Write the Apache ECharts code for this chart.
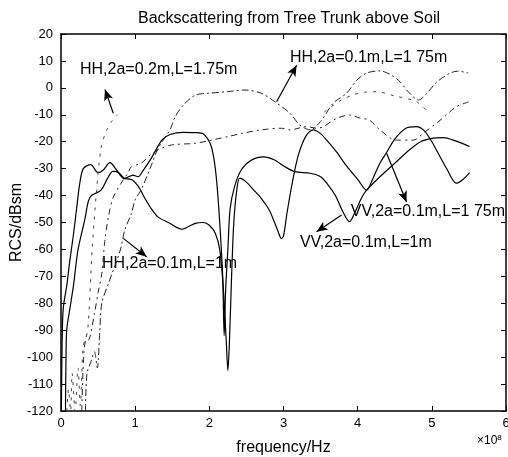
<!DOCTYPE html>
<html>
<head>
<meta charset="utf-8">
<script src="https://cdn.jsdelivr.net/npm/echarts@6/dist/echarts.min.js"></script>
<style>
html, body { margin: 0; padding: 0; background: #fff; }
#chart { width: 508px; height: 457px; }
</style>
</head>
<body>
<div id="chart"></div>
<script>
// frequency in units of 1e8 Hz, RCS in dBsm
var vv175Freq = [0.005,0.015,0.03,0.08,0.12,0.17,0.21,0.25,0.3,0.4,0.5,0.57,0.66,0.75,0.84,0.95,1.04,1.13,1.22,1.31,1.45,1.63,1.72,1.81,1.92,2.0,2.08,2.14,2.19,2.23,2.25,2.27,2.3,2.33,2.37,2.41,2.5,2.6,2.7,2.8,2.88,2.95,2.97,3.0,3.05,3.12,3.2,3.3,3.4,3.5,3.6,3.72,3.85,4.0,4.12,4.2,4.3,4.39,4.5,4.65,4.79,4.9,5.0,5.1,5.2,5.33,5.42,5.51];
var vv175Rcs = [-120,-95,-82,-73,-64,-54,-45,-36,-30,-28.5,-31.5,-30.5,-27.8,-30.5,-33.6,-34,-36.5,-41,-45,-48,-50,-52.5,-51.5,-50.3,-50,-51,-54,-60,-75,-95,-105,-95,-70,-50,-38,-33.5,-35,-38,-41,-45,-50,-55,-56,-55,-46,-35,-25,-18,-15.6,-17,-20,-24,-29,-34,-38,-34,-28,-24,-19,-15,-14.4,-16,-20,-25,-30,-35.4,-34,-31.5];

var vv1Freq = [0.06,0.07,0.08,0.12,0.17,0.23,0.32,0.37,0.41,0.54,0.62,0.7,0.78,0.86,0.97,1.04,1.1,1.22,1.36,1.47,1.65,1.81,1.92,2.01,2.06,2.1,2.14,2.18,2.2,2.22,2.25,2.28,2.34,2.43,2.57,2.73,2.88,3.02,3.15,3.36,3.5,3.6,3.7,3.8,3.89,3.95,4.05,4.12,4.3,4.5,4.7,4.85,5.02,5.15,5.3,5.51];
var vv1Rcs = [-120,-95,-89,-82,-73,-60,-49,-42,-40,-38,-34,-31,-31.5,-33.6,-32.4,-33,-31,-26,-19.4,-17.3,-16.5,-16.6,-17.1,-20.6,-26,-35,-50,-70,-92,-75,-60,-45,-36.7,-30.5,-26.8,-25.6,-26.8,-29.3,-31.1,-31.7,-33,-36,-40,-46,-49.7,-47,-41,-38,-33,-28,-23,-20,-18.7,-18.5,-19.5,-21.8];

var hhUpFreq = [0.33,0.35,0.4,0.45,0.49,0.52,0.55,0.64,0.8,0.86,0.95,1.0,1.08,1.2,1.3,1.4,1.47,1.54,1.65,1.81,2.0,2.25,2.48,2.7,2.88,3.09,3.22,3.36,3.5,3.67,3.85,3.99,4.12,4.3,4.45,4.57,4.68,4.82,4.95,5.06,5.24,5.35,5.49];
var hhUpRcs = [-120,-106,-102,-98,-104,-92,-80,-72.6,-60.2,-52.8,-46.6,-41.6,-37.9,-30,-23,-18.5,-15.6,-10.7,-6.4,-2.7,-2,-1.4,-0.8,-2,-5.1,-9.5,-13.8,-15.6,-12.5,-5.7,-2,2.9,5.5,6.3,4.8,2.3,-1.4,-4.5,-1.5,2,5.4,6.2,5.5];

var hhMidFreq = [0.28,0.31,0.35,0.37,0.45,0.5,0.55,0.59,0.64,0.7,0.81,0.9,0.95,1.08,1.2,1.31,1.49,1.81,2.03,2.25,2.44,2.7,2.97,3.09,3.31,3.45,3.53,3.72,3.89,4.03,4.16,4.3,4.52,4.75,4.9,5.06,5.2,5.33,5.51];
var hhMidRcs = [-120,-98,-92,-93.6,-84,-76,-69,-57,-47.8,-41,-35.4,-31.7,-29.3,-28,-25,-23,-21.2,-20.6,-19.4,-18.1,-16.9,-15.6,-15,-15.6,-14.4,-15,-14.5,-11.3,-10.1,-11.2,-12,-15.6,-19.4,-19.4,-16.5,-13.2,-10,-7,-5.1];

// faint curve, only parts of it survive in the print (null = gap)
var hh02Freq = [0.08,0.1,0.13,0.15,0.19,0.23,0.26,0.3,0.36,0.42,0.48,0.54,0.61,0.68,0.76,2.0,3.55,3.75,3.95,4.1,4.25,4.5,4.79,4.95];
var hh02Rcs = [-120,-112,-120,-106,-120,-104,-118,-96,-90,-60,-38,-22.4,-16,-12.6,-10,null,-9,-5,-2.5,-1.6,-1.4,-3,-5.1,-9];

var xTicks = [0, 1, 2, 3, 4, 5, 6];

// annotations: text, label anchor (left, middle), arrow tail, arrow head
var noteTexts = ['HH,2a=0.2m,L=1.75m', 'HH,2a=0.1m,L=1 75m', 'VV,2a=0.1m,L=1 75m', 'VV,2a=0.1m,L=1m', 'HH,2a=0.1m,L=1m'];
var noteAnchors = [[0.256, 6.6], [3.086, 11.1], [3.908, -46.1], [3.221, -57.6], [0.553, -65.4]];
var arrowTails = [[0.705, -9.45], [2.907, -5.14], [4.39, -24.3], [3.783, -47.2], [0.84, -55.9]];
var arrowHeads = [[0.593, -0.6], [3.177, 8.4], [4.659, -42.4], [3.446, -53.4], [1.155, -62.7]];

function pairs(xs, ys) {
    return xs.map(function (x, i) {
        return [x, ys[i] === null ? '-' : ys[i]];
    });
}

var FONT = 'Liberation Sans, Arial, sans-serif';
var chart = echarts.init(document.getElementById('chart'));

function curve(name, data, lineType, width, color) {
    return {
        name: name,
        type: 'line',
        data: data,
        showSymbol: false,
        smooth: 0.3,
        connectNulls: false,
        lineStyle: { color: color, width: width, type: lineType },
        emphasis: { disabled: true },
        silent: true
    };
}

var arrowLines = arrowTails.map(function (t, i) {
    return [{ coord: t }, { coord: arrowHeads[i] }];
});

var frameTick = { show: true, inside: true, length: 5, lineStyle: { color: '#000', width: 1 } };

var option = {
    animation: false,
    backgroundColor: '#fff',
    title: {
        text: 'Backscattering from Tree Trunk above Soil',
        left: 284,
        top: 6,
        textAlign: 'center',
        textStyle: { fontFamily: FONT, fontSize: 16, fontWeight: 'normal', color: '#000' }
    },
    grid: { left: 61, right: 2, top: 34, bottom: 46, outerBoundsMode: 'none' },
    xAxis: [{
        type: 'value',
        min: 0, max: 6, interval: 1,
        name: 'frequency/Hz',
        nameLocation: 'middle',
        nameGap: 29,
        nameMoveOverlap: false,
        nameTextStyle: { fontFamily: FONT, fontSize: 16, color: '#000' },
        axisLine: { onZero: false, lineStyle: { color: '#000', width: 1.5 } },
        axisTick: frameTick,
        axisLabel: {
            fontFamily: FONT, fontSize: 13, color: '#000', margin: 6,
            formatter: function (v) { return xTicks.indexOf(v) >= 0 ? String(v) : ''; }
        },
        splitLine: { show: false }
    }, {
        type: 'value',
        position: 'top',
        min: 0, max: 6, interval: 1,
        axisLine: { onZero: false, lineStyle: { color: '#000', width: 1.5 } },
        axisTick: frameTick,
        axisLabel: { show: false },
        splitLine: { show: false }
    }],
    yAxis: [{
        type: 'value',
        min: -120, max: 20, interval: 10,
        name: 'RCS/dBsm',
        nameLocation: 'middle',
        nameRotate: 90,
        nameGap: 36,
        nameMoveOverlap: false,
        nameTextStyle: { fontFamily: FONT, fontSize: 16, color: '#000' },
        axisLine: { show: true, onZero: false, lineStyle: { color: '#000', width: 1.5 } },
        axisTick: frameTick,
        axisLabel: { fontFamily: FONT, fontSize: 13, color: '#000', margin: 8 },
        splitLine: { show: false }
    }, {
        type: 'value',
        position: 'right',
        min: -120, max: 20, interval: 10,
        axisLine: { show: true, onZero: false, lineStyle: { color: '#000', width: 1.5 } },
        axisTick: frameTick,
        axisLabel: { show: false },
        splitLine: { show: false }
    }],
    series: [
        curve('VV,2a=0.1m,L=1.75m', pairs(vv175Freq, vv175Rcs), 'solid', 1.2, '#000'),
        curve('VV,2a=0.1m,L=1m', pairs(vv1Freq, vv1Rcs), 'solid', 1.2, '#000'),
        curve('HH upper', pairs(hhUpFreq, hhUpRcs), [7, 3, 2, 3], 1, '#222'),
        curve('HH middle', pairs(hhMidFreq, hhMidRcs), [6, 4, 2, 4], 1, '#222'),
        curve('HH,2a=0.2m,L=1.75m', pairs(hh02Freq, hh02Rcs), [3, 6], 1, '#444'),
        {
            type: 'line',
            data: [],
            silent: true,
            markLine: {
                silent: true,
                symbol: ['none', 'arrow'],
                symbolSize: [7, 11],
                label: { show: false },
                lineStyle: { color: '#000', width: 1.2, type: 'solid' },
                emphasis: { disabled: true },
                data: arrowLines
            }
        }
    ],
    graphic: [{
        type: 'text',
        left: 477,
        top: 434,
        style: {
            text: '\u00d710{s|8}',
            fontFamily: FONT,
            fontSize: 12,
            fill: '#000',
            rich: { s: { fontSize: 8, verticalAlign: 'top', padding: [0, 0, 6, 0] } }
        }
    }]
};

chart.setOption(option);

// place annotation texts through the chart's own coordinate conversion
var notes = noteTexts.map(function (t, i) {
    var p = chart.convertToPixel({ gridIndex: 0 }, noteAnchors[i]);
    return {
        type: 'text',
        x: p[0],
        y: p[1],
        silent: true,
        style: {
            text: t,
            fontFamily: FONT,
            fontSize: 16,
            fill: '#000',
            verticalAlign: 'middle'
        }
    };
});
chart.setOption({ graphic: option.graphic.concat(notes) });
</script>
</body>
</html>
